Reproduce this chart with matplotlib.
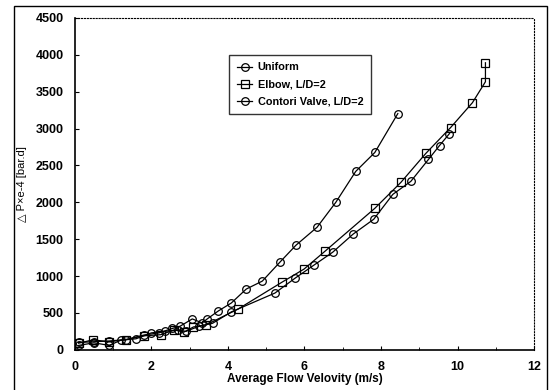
import matplotlib
matplotlib.use("Agg")
import matplotlib.pyplot as plt
from matplotlib.patches import Rectangle

plt.rcParams['font.family'] = ['Liberation Sans', 'DejaVu Sans']

# Uniform
uni_x = [0.1, 0.5, 0.9, 1.35, 1.8, 2.2, 2.55, 2.75, 3.07, 3.33, 3.46, 3.75, 4.09, 4.48,
         4.90, 5.36, 5.78, 6.33, 6.82, 7.34, 7.84, 8.44]
uni_y = [100, 110, 120, 140, 200, 230, 290, 320, 419, 365, 419, 527, 635, 824,
         932, 1189, 1419, 1662, 2000, 2419, 2676, 3203]

# Elbow, L/D=2
elb_x = [0.1, 0.47, 0.9, 1.35, 1.8, 2.24, 2.6, 2.85, 3.1, 3.44, 4.27, 5.42, 5.99,
         6.54, 7.84, 8.52, 9.17, 9.82, 10.39, 10.73, 10.73]
elb_y = [90, 135, 110, 140, 190, 205, 270, 240, 310, 340, 554, 919, 1095,
         1338, 1919, 2270, 2662, 3014, 3351, 3635, 3892]

# Contori Valve, L/D=2
con_x = [0.1, 0.5, 0.9, 1.2, 1.6, 2.0, 2.35, 2.7, 2.9, 3.25, 3.6, 4.09, 5.23, 5.76,
         6.25, 6.74, 7.27, 7.81, 8.31, 8.78, 9.24, 9.53, 9.79]
con_y = [60, 95, 60, 130, 150, 230, 250, 270, 250, 320, 360, 514, 770, 973,
         1149, 1324, 1568, 1770, 2108, 2284, 2581, 2770, 2932]

x_ticks = [0, 2, 4, 6, 8, 10, 12]
y_ticks = [0, 500, 1000, 1500, 2000, 2500, 3000, 3500, 4000, 4500]

fig = plt.figure(figsize=(5.5, 3.9), dpi=100)
ax = fig.add_axes([0.136, 0.103, 0.835, 0.851])

style = dict(color='black', lw=0.9, markersize=5.5, mfc='none', mec='black', mew=0.9)
ax.plot(uni_x, uni_y, marker='o', label='Uniform', **style)
ax.plot(elb_x, elb_y, marker='s', label='Elbow, L/D=2', **style)
ax.plot(con_x, con_y, marker='o', label='Contori Valve, L/D=2', **style)

ax.set_xlim(0, 12)
ax.set_ylim(0, 4500)
ax.set_xticks(x_ticks)
ax.set_xticks(range(0, 13), minor=True)
ax.set_yticks(y_ticks)
ax.tick_params(direction='in', length=3, width=0.8, labelsize=9, pad=8)
ax.tick_params(which='minor', direction='in', length=2)
for lab in ax.get_xticklabels() + ax.get_yticklabels():
    lab.set_fontweight('bold')

ax.spines['top'].set_linestyle(':')
ax.spines['right'].set_linestyle(':')
ax.spines['left'].set_linewidth(1.2)
ax.spines['bottom'].set_linewidth(1.2)

ax.set_xlabel('Average Flow Velovity (m/s)', fontsize=8.5, fontweight='bold', labelpad=0)
ax.set_ylabel('\u25b3 P\u00d7e-4 [bar.d]', fontsize=8, labelpad=6)

leg = ax.legend(loc='upper left', bbox_to_anchor=(0.325, 0.905),
                prop={'weight': 'bold', 'size': 7.8}, frameon=True, fancybox=False,
                edgecolor='black', handlelength=1.4, handletextpad=0.5,
                borderpad=0.7, labelspacing=0.65)
leg.get_frame().set_linewidth(1.0)

fig.patches.append(Rectangle((0.025, -0.01), 0.97, 0.995, transform=fig.transFigure,
                             fill=False, edgecolor='black', lw=1.0))

fig.savefig('out.png', dpi=100)
